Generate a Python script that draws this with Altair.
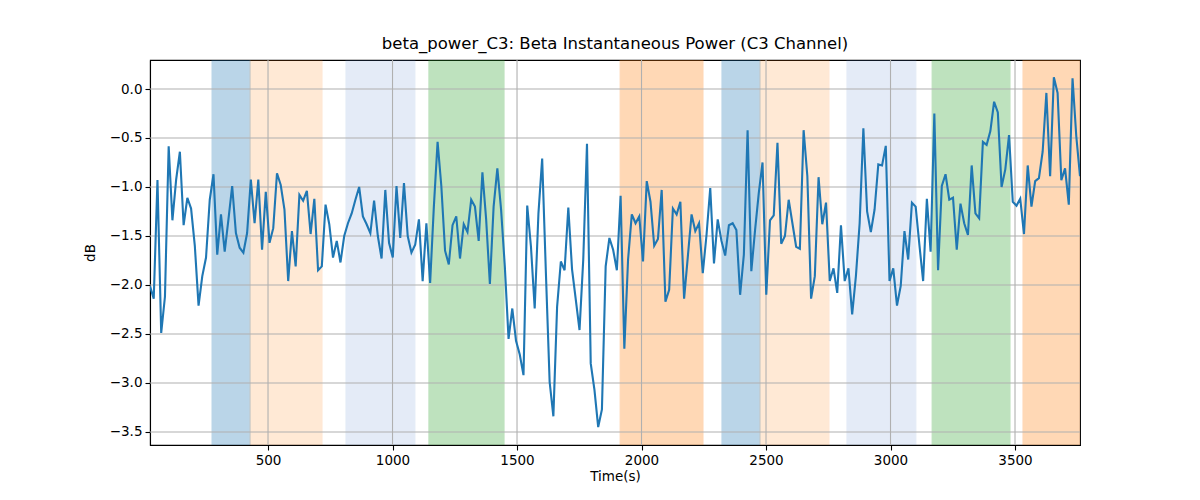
import altair as alt
import pandas as pd

# ---- data ----
t_start = 26.0
t_step = 15.0

power_db = [
    # segment 1
    -2.01, -2.14, -0.93, -2.49, -2.12, -0.585, -1.34, -0.925, -0.64, -1.39,
    -1.11, -1.22, -1.60, -2.21, -1.91, -1.72, -1.13, -0.87, -1.69, -1.28,
    -1.66, -1.33, -0.99, -1.47, -1.62, -1.67, -1.47, -0.925, -1.37, -0.925,
    -1.64, -1.05, -1.57, -1.42, -0.86, -0.98, -1.23, -1.96, -1.45, -1.81,
    -1.08, -1.14, -1.04,
    # segment 2
    -1.48, -1.12, -1.85, -1.81, -1.18, -1.38, -1.72, -1.55, -1.77, -1.50,
    -1.37, -1.27, -1.13, -1.00, -1.30, -1.38, -1.47, -1.14, -1.50, -1.73,
    -1.03, -1.57, -1.72, -0.99, -1.52, -0.96, -1.50, -1.67, -1.59, -1.33,
    -1.96, -1.37, -1.98, -1.20, -0.54, -0.99, -1.65, -1.79, -1.39, -1.30,
    # segment 3
    -1.73, -1.38, -1.46, -1.13, -1.20, -1.55, -0.85, -1.33, -1.99, -1.20,
    -0.81, -1.23, -1.81, -2.55, -2.24, -2.57, -2.71, -2.92, -1.19, -1.61,
    -2.24, -1.27, -0.71, -1.88, -2.99, -3.34, -2.22, -1.76, -1.85, -1.21,
    -1.84, -2.15, -2.46, -1.74, -0.56, -2.80, -3.07, -3.45, -3.27, -1.81,
    # segment 4
    -1.52, -1.64, -1.85, -1.09, -2.65, -1.74, -1.28, -1.37, -1.30, -1.76,
    -0.94, -1.15, -1.60, -1.53, -1.03, -2.17, -2.05, -1.22, -1.28, -1.15,
    -2.14, -1.71, -1.28, -1.45, -1.37, -1.88, -1.49, -1.01, -1.78, -1.33,
    -1.55, -1.70, -1.39, -1.37, -1.44, -2.10, -1.69, -0.42, -1.86, -1.44,
    -1.06,
    # segment 5
    -0.75, -2.10, -1.34, -1.29, -0.55, -1.58, -1.50, -1.13, -1.37, -1.61,
    -1.63, -0.42, -0.89, -2.14, -1.91, -0.90, -1.38, -1.16, -1.96, -1.83,
    -2.08, -1.39, -1.96, -1.83, -2.30, -1.91, -1.37, -0.40, -1.25, -1.46,
    -1.23, -0.77, -0.78, -0.58, -1.96, -1.83, -2.21, -2.01, -1.45, -1.74,
    # segment 6
    -1.16, -1.20, -1.59, -1.96, -1.12, -1.66, -0.25, -1.85, -0.99, -0.87,
    -1.13, -1.11, -1.64, -1.17, -1.37, -1.49, -0.78, -1.27, -1.32, -0.54,
    -0.57, -0.43, -0.13, -0.24, -1.00, -0.82, -0.47, -1.15, -1.19, -1.12,
    -1.48, -0.78, -1.20, -0.94, -0.91, -0.64, -0.04, -0.89, 0.12, -0.04,
    -0.93, -0.81, -1.18, 0.11, -0.48, -0.89,
]
time_s = [t_start + t_step * i for i in range(len(power_db))]

span_start = [275, 428, 813, 1146, 1914, 2323, 2476, 2825, 3167, 3532]
span_end = [428, 717, 1090, 1448, 2247, 2476, 2753, 3102, 3480, 3761]
span_color = ["#1f77b4", "#ff7f0e", "#5b8bd0", "#2ca02c", "#ff7f0e",
              "#1f77b4", "#ff7f0e", "#5b8bd0", "#2ca02c", "#ff7f0e"]
span_alpha = [0.3, 0.17, 0.16, 0.3, 0.3, 0.3, 0.17, 0.16, 0.3, 0.3]

x_ticks = [500, 1000, 1500, 2000, 2500, 3000, 3500]
y_ticks = [0.0, -0.5, -1.0, -1.5, -2.0, -2.5, -3.0, -3.5]

x_domain = [26, 3761]
y_domain = [-3.633, 0.296]

line_df = pd.DataFrame({"t": time_s, "db": power_db})
span_df = pd.DataFrame({"start": span_start, "end": span_end,
                        "color": span_color, "alpha": span_alpha})
xgrid_df = pd.DataFrame({"t": x_ticks})
ygrid_df = pd.DataFrame({"db": y_ticks})

FONT = "DejaVu Sans"
GRID = "#b0b0b0"

x_scale = alt.Scale(domain=x_domain, nice=False, zero=False)
y_scale = alt.Scale(domain=y_domain, nice=False, zero=False)

x_axis = alt.Axis(values=x_ticks, format="d", title="Time(s)", grid=False)
y_axis = alt.Axis(values=y_ticks, title="dB", grid=False,
                  labelExpr="replace(format(datum.value, '.1f'), '-', '\u2212')")

spans = alt.Chart(span_df).mark_rect(clip=True, strokeWidth=1).encode(
    x=alt.X("start:Q", scale=x_scale, axis=x_axis),
    x2="end:Q",
    y=alt.value(0),
    y2=alt.value(385),
    fill=alt.Color("color:N", scale=None),
    stroke=alt.Color("color:N", scale=None),
    opacity=alt.Opacity("alpha:Q", scale=None),
)

xgrid = alt.Chart(xgrid_df).mark_rule(color=GRID, strokeWidth=1.1).encode(
    x=alt.X("t:Q", scale=x_scale, axis=x_axis),
    y=alt.value(0),
    y2=alt.value(385),
)

ygrid = alt.Chart(ygrid_df).mark_rule(color=GRID, strokeWidth=1.1).encode(
    y=alt.Y("db:Q", scale=y_scale, axis=y_axis),
    x=alt.value(0),
    x2=alt.value(930),
)

line = alt.Chart(line_df).mark_line(color="#1f77b4", strokeWidth=2.1, clip=True).encode(
    x=alt.X("t:Q", scale=x_scale, axis=x_axis),
    y=alt.Y("db:Q", scale=y_scale, axis=y_axis),
)

chart = alt.layer(spans, xgrid, ygrid, line).properties(
    width=930,
    height=385,
    autosize=alt.AutoSizeParams(type="none"),
    padding={"left": 142, "top": 52, "right": 112, "bottom": 47},
    title=alt.TitleParams(
        "beta_power_C3: Beta Instantaneous Power (C3 Channel)",
        font=FONT, fontSize=16.5, fontWeight="normal", color="black",
        anchor="middle", offset=7,
    ),
).configure_view(
    stroke="black", strokeWidth=1.1
).configure_axis(
    labelFont=FONT, labelFontSize=13.5, labelColor="black",
    titleFont=FONT, titleFontSize=13.5, titleColor="black", titleFontWeight="normal",
    tickColor="black", tickSize=5, tickWidth=1.1,
    domainColor="black", domainWidth=1.1,
    labelPadding=3,
).configure_axisY(
    titlePadding=12,
).configure_axisX(
    titlePadding=3,
)

chart.save("out.html", embed_options={"renderer": "svg", "actions": False})
